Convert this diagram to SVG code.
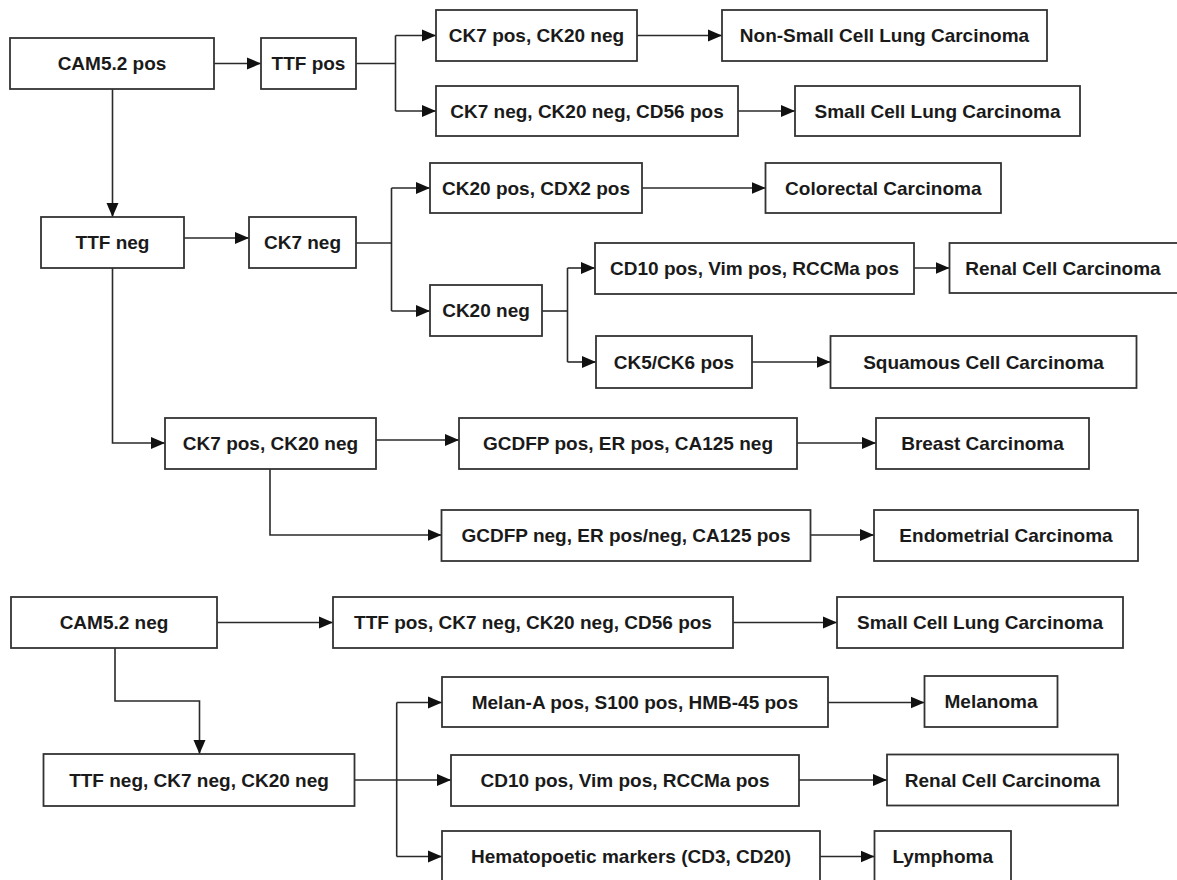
<svg xmlns="http://www.w3.org/2000/svg" width="1177" height="880" viewBox="0 0 1177 880">
<style>
  .box { fill: #ffffff; stroke: #333333; stroke-width: 1.8; }
  .lbl { font-family: "Liberation Sans", Arial, sans-serif; font-size: 19px; font-weight: bold; fill: #1a1a1a; text-anchor: middle; dominant-baseline: central; }
  .ln { fill: none; stroke: #2a2a2a; stroke-width: 1.6; }
  .arr { fill: none; stroke: #2a2a2a; stroke-width: 1.6; marker-end: url(#ah); }
</style>
<defs>
  <marker id="ah" markerUnits="userSpaceOnUse" markerWidth="15" markerHeight="13" refX="14" refY="6.5" orient="auto">
    <path d="M0,0.5 L14,6.5 L0,12.5 z" fill="#111111"/>
  </marker>
</defs>
<rect width="1177" height="880" fill="#ffffff"/>

<g id="connectors">
  <path class="arr" d="M214,63.5 H261"/>
  <path class="ln" d="M356,63.5 H395.5"/>
  <path class="ln" d="M395.5,35.5 V111"/>
  <path class="arr" d="M395.5,35.5 H436"/>
  <path class="arr" d="M395.5,111 H436"/>
  <path class="arr" d="M637,35.5 H722"/>
  <path class="arr" d="M738,111 H795"/>
  <path class="arr" d="M112.5,89 V217"/>
  <path class="arr" d="M184,238 H249"/>
  <path class="ln" d="M356,243 H391.5"/>
  <path class="ln" d="M391.5,188 V311"/>
  <path class="arr" d="M391.5,188 H430"/>
  <path class="arr" d="M391.5,311 H430"/>
  <path class="arr" d="M642,188 H765.5"/>
  <path class="ln" d="M542,311 H567.5"/>
  <path class="ln" d="M567.5,268 V362"/>
  <path class="arr" d="M567.5,268 H595"/>
  <path class="arr" d="M567.5,362 H596"/>
  <path class="arr" d="M914,268 H949.5"/>
  <path class="arr" d="M752,362 H830.5"/>
  <path class="arr" d="M112.5,268 V443 H165"/>
  <path class="arr" d="M376,440 H459"/>
  <path class="arr" d="M270,469 V535 H441.5"/>
  <path class="arr" d="M797,443 H876"/>
  <path class="arr" d="M810,535 H874"/>
  <path class="arr" d="M217,622.5 H333"/>
  <path class="arr" d="M115,648 V701 H199.5 V754"/>
  <path class="arr" d="M733,622.5 H837"/>
  <path class="arr" d="M354.5,780 H451"/>
  <path class="ln" d="M396.7,702.5 V856.5"/>
  <path class="arr" d="M396.7,702.5 H442"/>
  <path class="arr" d="M396.7,856.5 H442"/>
  <path class="arr" d="M828,702.5 H924.5"/>
  <path class="arr" d="M799,780 H887"/>
  <path class="arr" d="M820,856.5 H874.5"/>
</g>

<g id="n_cam_pos"><rect class="box" x="10" y="38" width="204" height="51"/><text class="lbl" x="112" y="63.5">CAM5.2 pos</text></g>
<g id="n_ttf_pos"><rect class="box" x="261" y="38" width="95" height="51"/><text class="lbl" x="308.5" y="63.5">TTF pos</text></g>
<g id="n_ck7pos_top"><rect class="box" x="436" y="10" width="201" height="51"/><text class="lbl" x="536.5" y="35.5">CK7 pos, CK20 neg</text></g>
<g id="n_nsclc"><rect class="box" x="722" y="10" width="325" height="51"/><text class="lbl" x="884.5" y="35.5">Non-Small Cell Lung Carcinoma</text></g>
<g id="n_ck7neg_cd56"><rect class="box" x="436" y="86" width="302" height="50"/><text class="lbl" x="587" y="111">CK7 neg, CK20 neg, CD56 pos</text></g>
<g id="n_sclc1"><rect class="box" x="795" y="86" width="285" height="50"/><text class="lbl" x="937.5" y="111">Small Cell Lung Carcinoma</text></g>

<g id="n_ttf_neg"><rect class="box" x="41" y="217" width="143" height="51"/><text class="lbl" x="112.5" y="242.5">TTF neg</text></g>
<g id="n_ck7_neg"><rect class="box" x="249" y="217" width="107" height="51"/><text class="lbl" x="302.5" y="242.5">CK7 neg</text></g>
<g id="n_ck20pos_cdx2"><rect class="box" x="430" y="163" width="212" height="50"/><text class="lbl" x="536" y="188">CK20 pos, CDX2 pos</text></g>
<g id="n_colorectal"><rect class="box" x="765.5" y="163" width="235.5" height="50"/><text class="lbl" x="883.3" y="188">Colorectal Carcinoma</text></g>
<g id="n_ck20_neg"><rect class="box" x="430" y="285" width="112" height="51"/><text class="lbl" x="486" y="310.5">CK20 neg</text></g>
<g id="n_cd10_1"><rect class="box" x="595" y="243" width="319" height="51"/><text class="lbl" x="754.5" y="268.5">CD10 pos, Vim pos, RCCMa pos</text></g>
<g id="n_renal1"><rect class="box" x="949.5" y="243" width="240" height="50"/><text class="lbl" x="1063" y="268">Renal Cell Carcinoma</text></g>
<g id="n_ck56"><rect class="box" x="596" y="336" width="156" height="52"/><text class="lbl" x="674" y="362">CK5/CK6 pos</text></g>
<g id="n_squamous"><rect class="box" x="830.5" y="336" width="306" height="52"/><text class="lbl" x="983.5" y="362">Squamous Cell Carcinoma</text></g>

<g id="n_ck7pos_mid"><rect class="box" x="165" y="418" width="211" height="51"/><text class="lbl" x="270.5" y="443.5">CK7 pos, CK20 neg</text></g>
<g id="n_gcdfp_pos"><rect class="box" x="459" y="418" width="338" height="51"/><text class="lbl" x="628" y="443.5">GCDFP pos, ER pos, CA125 neg</text></g>
<g id="n_breast"><rect class="box" x="876" y="418" width="213" height="51"/><text class="lbl" x="982.5" y="443.5">Breast Carcinoma</text></g>
<g id="n_gcdfp_neg"><rect class="box" x="441.5" y="510" width="369" height="51"/><text class="lbl" x="626" y="535.5">GCDFP neg, ER pos/neg, CA125 pos</text></g>
<g id="n_endometrial"><rect class="box" x="874" y="510" width="264" height="51"/><text class="lbl" x="1006" y="535.5">Endometrial Carcinoma</text></g>

<g id="n_cam_neg"><rect class="box" x="11" y="597" width="206" height="51"/><text class="lbl" x="114" y="622.5">CAM5.2 neg</text></g>
<g id="n_ttfpos_combo"><rect class="box" x="333" y="597" width="400" height="51"/><text class="lbl" x="533" y="622.5">TTF pos, CK7 neg, CK20 neg, CD56 pos</text></g>
<g id="n_sclc2"><rect class="box" x="837" y="597" width="286" height="51"/><text class="lbl" x="980" y="622.5">Small Cell Lung Carcinoma</text></g>
<g id="n_ttfneg_combo"><rect class="box" x="43.5" y="754" width="311" height="52"/><text class="lbl" x="199" y="780">TTF neg, CK7 neg, CK20 neg</text></g>
<g id="n_melan"><rect class="box" x="442" y="677" width="386" height="50"/><text class="lbl" x="635" y="702">Melan-A pos, S100 pos, HMB-45 pos</text></g>
<g id="n_melanoma"><rect class="box" x="924.5" y="676" width="133" height="51"/><text class="lbl" x="991" y="701.5">Melanoma</text></g>
<g id="n_cd10_2"><rect class="box" x="451" y="755" width="348" height="51"/><text class="lbl" x="625" y="780.5">CD10 pos, Vim pos, RCCMa pos</text></g>
<g id="n_renal2"><rect class="box" x="887" y="754.5" width="231" height="51"/><text class="lbl" x="1002.5" y="780">Renal Cell Carcinoma</text></g>
<g id="n_hema"><rect class="box" x="442" y="831" width="378" height="52"/><text class="lbl" x="631" y="856.5">Hematopoetic markers (CD3, CD20)</text></g>
<g id="n_lymphoma"><rect class="box" x="874.5" y="831" width="136.5" height="52"/><text class="lbl" x="942.7" y="856.5">Lymphoma</text></g>
</svg>
